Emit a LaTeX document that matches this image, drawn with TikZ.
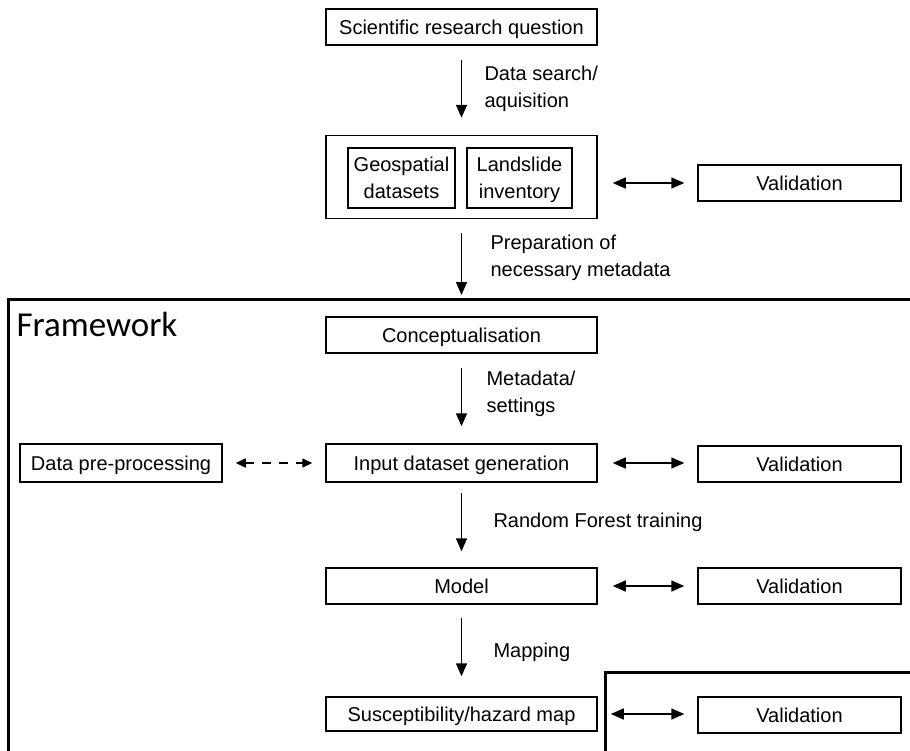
\documentclass[tikz,border=0pt]{standalone}
\usepackage{fontspec}
\setmainfont{Liberation Sans}
\newfontfamily\fwfont{Carlito}
\usetikzlibrary{positioning,arrows.meta}

\begin{document}
\begin{tikzpicture}[x=1pt, y=-1pt,
      box/.style={draw, line width=1.5pt, inner sep=0pt, minimum height=36pt,
                  text depth=0pt, align=center},
      mainbox/.style={box, minimum width=271pt},
      valbox/.style={box, minimum width=203pt},
      flow/.style={-{Triangle[length=13pt,width=11pt]}, line width=1.5pt,
                   shorten <=14pt, shorten >=17pt},
      twoway/.style={{Triangle[length=13pt,width=11pt]}-{Triangle[length=13pt,width=11pt]},
                     line width=1.5pt, shorten <=15pt, shorten >=13pt},
      lbl/.style={anchor=west, align=left},
      every node/.style={font=\fontsize{20}{27}\selectfont}]
    \useasboundingbox (0,0) rectangle (910,750);
    % framework outline and lower right frame
    \draw[line width=3pt] (8,760) -- (8,299) -- (920,299);
    \draw[line width=3pt] (605,760) -- (605,672) -- (920,672);
    \node[anchor=base west, font=\fwfont\fontsize{35}{40}\selectfont] (fwlabel) at (13,336) {Framework};

    \node[mainbox] (question) at (461.5,27) {Scientific research question};
    \node[box, minimum width=271pt, minimum height=83pt] (data) at (461.5,177) {};
    \node[box, minimum width=107pt, minimum height=60pt] (geo) at (401.5,178) {Geospatial\\datasets};
    \node[box, minimum width=105pt, minimum height=60pt] (inv) at (519.5,178) {Landslide\\inventory};
    \node[valbox] (val1) at (799.5,183) {Validation};
    \coordinate (fwtop) at (461.5,299);

    \node[mainbox] (concept) at (461.5,335) {Conceptualisation};
    \node[box, minimum width=202pt, minimum height=38pt] (prep) at (121,463) {Data pre-processing};
    \node[mainbox, minimum height=38pt] (input) at (461.5,463) {Input dataset generation};
    \node[valbox] (val2) at (799.5,464) {Validation};
    \node[mainbox] (model) at (461.5,586) {Model};
    \node[valbox] (val3) at (799.5,586) {Validation};
    \node[mainbox, minimum height=34pt] (map) at (461.5,714) {Susceptibility/hazard map};
    \node[valbox] (val4) at (799.5,715) {Validation};

    \draw[flow] (question) -- (data);
    \draw[flow, shorten >=4pt] (data) -- (fwtop);
    \draw[flow] (concept) -- (input);
    \draw[flow, shorten <=10pt, shorten >=16pt] (input) -- (model);
    \draw[flow, shorten <=13pt, shorten >=20pt] (model) -- (map);

    \draw[twoway] (data.east |- val1) -- (val1.west);
    \draw[twoway] (input) -- (val2.west |- input);
    \draw[twoway] (model) -- (val3);
    \draw[twoway, shorten <=13pt] (map) -- (val4.west |- map);
    \draw[{Triangle[length=10pt,width=9pt]}-{Triangle[length=10pt,width=9pt]}, line width=1.5pt,
          dash pattern=on 9pt off 8pt, shorten <=13pt, shorten >=13pt] (prep) -- (input);

    \node[lbl] (l1) at (481,89) {Data search/\\aquisition};
    \node[lbl] (l2) at (487,258) {Preparation of\\necessary metadata};
    \node[lbl] (l3) at (483,394) {Metadata/\\settings};
    \node[lbl] (l4) at (490,522) {Random Forest training};
    \node[lbl] (l5) at (490,652) {Mapping};
\end{tikzpicture}
\end{document}
